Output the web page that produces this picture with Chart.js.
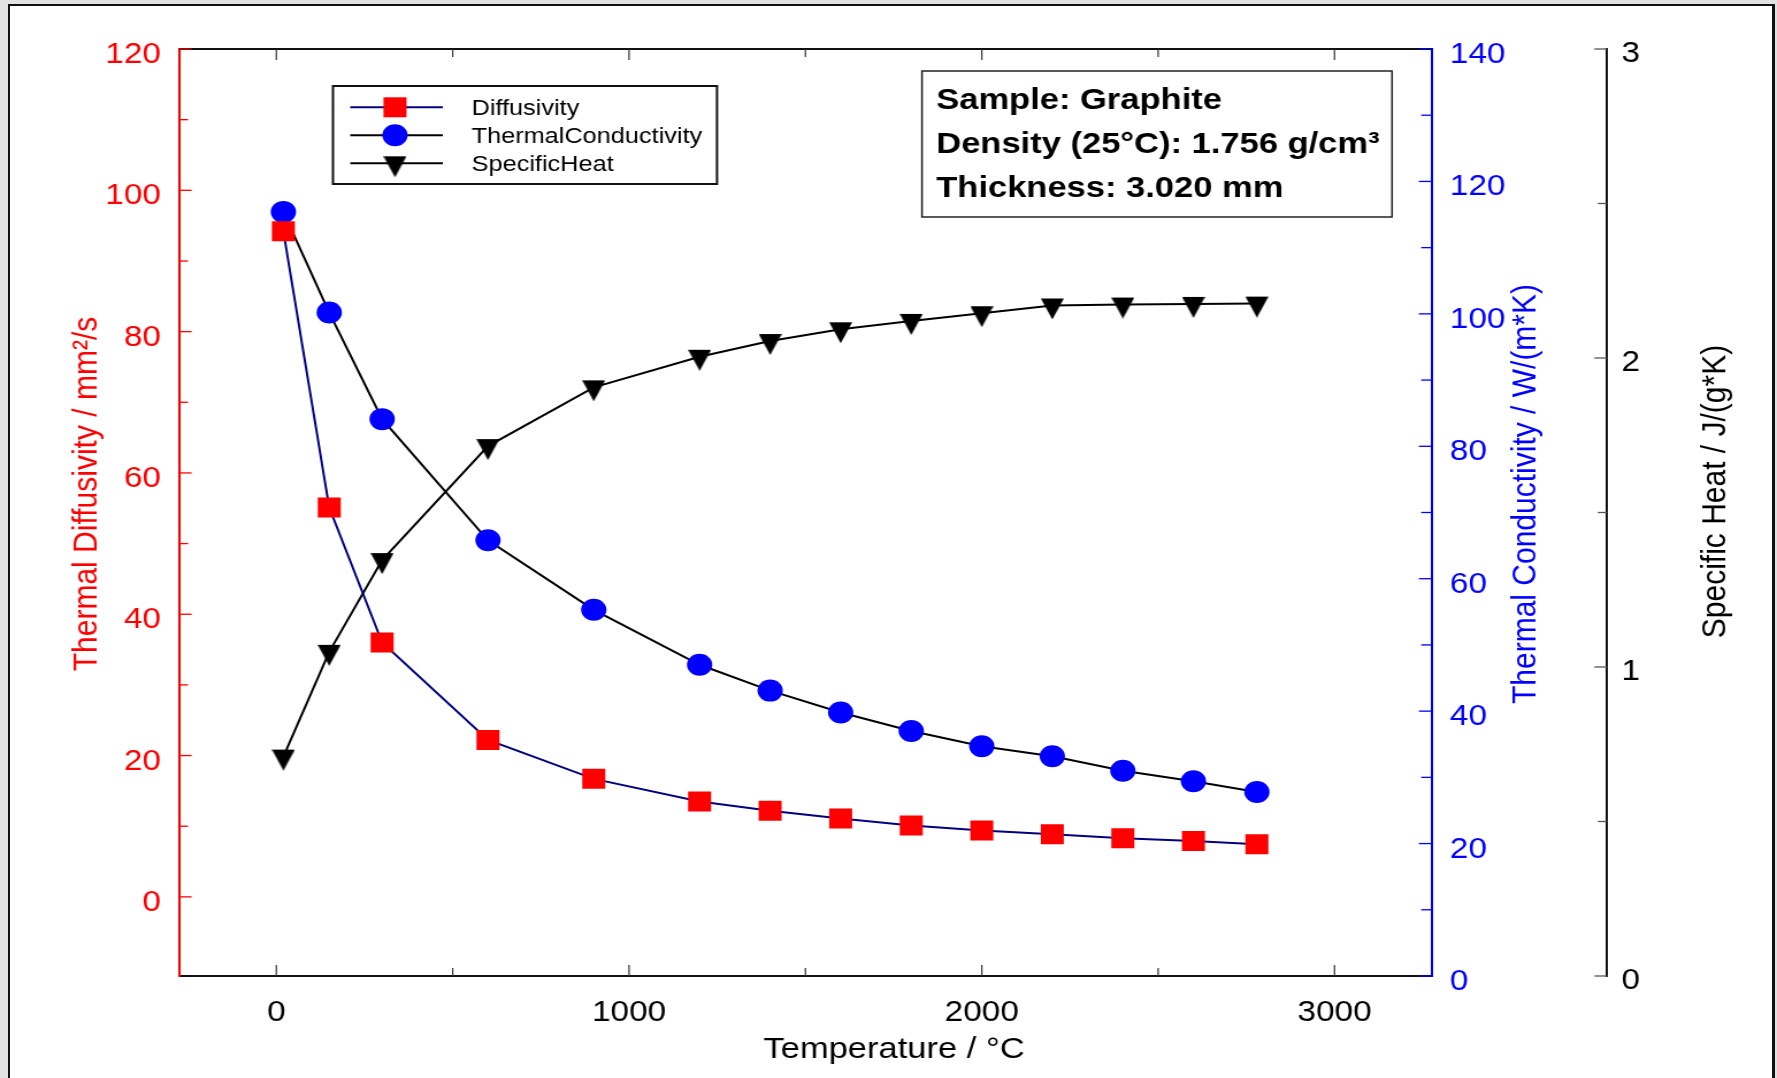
<!DOCTYPE html>
<html><head><meta charset="utf-8">
<script src="https://cdn.jsdelivr.net/npm/chart.js@4.4.1/dist/chart.umd.min.js"></script>
<style>
html,body{margin:0;padding:0;background:#e2e2e2;width:1777px;height:1078px;overflow:hidden;}
#panel{position:absolute;left:8px;top:4px;width:1767px;height:1200px;box-sizing:border-box;border:2px solid #111;border-right-width:3px;background:#fff;}
#wrap{position:absolute;left:0;top:0;width:1545px;height:1078px;transform:scaleX(1.15016);transform-origin:0 0;}
</style></head><body>
<div id="panel"></div>
<div id="wrap"><canvas id="c" width="1545" height="1078"></canvas></div>
<script>
// ---- data ----
const temperatures = [20, 150, 300, 600, 900, 1200, 1400, 1600, 1800, 2000, 2200, 2400, 2600, 2780];
const diffusivity  = [94.2, 55.1, 36.0, 22.2, 16.7, 13.5, 12.2, 11.1, 10.1, 9.4, 8.85, 8.3, 7.9, 7.45];
const conductivity = [115.4, 100.2, 84.1, 65.8, 55.3, 47.0, 43.1, 39.8, 37.0, 34.7, 33.2, 31.0, 29.4, 27.8];
const specificHeat = [0.71, 1.049, 1.346, 1.715, 1.905, 2.004, 2.055, 2.093, 2.12, 2.145, 2.17, 2.173, 2.175, 2.176];

const seriesNames = ['Diffusivity', 'ThermalConductivity', 'SpecificHeat'];
const xTitle = 'Temperature / °C';
const diffTitle = 'Thermal Diffusivity / mm²/s';
const condTitle = 'Thermal Conductivity / W/(m*K)';
const cpTitle = 'Specific Heat / J/(g*K)';
const infoLines = ['Sample: Graphite', 'Density (25°C): 1.756 g/cm³', 'Thickness: 3.020 mm'];

const xTicks = [0, 1000, 2000, 3000];
const xMinor = [500, 1500, 2500];
const diffTicks = [0, 20, 40, 60, 80, 100, 120];
const diffMinor = [10, 30, 50, 70, 90, 110];
const condTicks = [0, 20, 40, 60, 80, 100, 120, 140];
const condMinor = [10, 30, 50, 70, 90, 110, 130];
const cpTicks = [0, 1, 2, 3];
const cpMinor = [0.5, 1.5, 2.5];

// ---- styles ----
const FONT = '"Liberation Sans", Arial, Helvetica, sans-serif';
const RED = '#ff0000', BLUE = '#0000ff', NAVY = '#000080', BLACK = '#000000';

function makeTriangle(w, h, color) {
  const c = document.createElement('canvas');
  const H = Math.round(4 * h / 3);
  c.width = w; c.height = H;
  const g = c.getContext('2d');
  const top = H / 2 - h / 3;
  g.fillStyle = color;
  g.beginPath(); g.moveTo(0, top); g.lineTo(w, top); g.lineTo(w / 2, top + h); g.closePath(); g.fill();
  return c;
}
const triImg = makeTriangle(20, 21, BLACK);

function pts(xs, ys) { return xs.map((x, i) => ({ x: x, y: ys[i] })); }
function setTicks(arr) { return (scale) => { scale.ticks = arr.map(v => ({ value: v })); }; }

const decor = {
  id: 'decor',
  afterDraw(chart) {
    const ctx = chart.ctx, a = chart.chartArea;
    const sx = chart.scales.x, sy = chart.scales.y, s1 = chart.scales.y1, s2 = chart.scales.y2;
    ctx.save();
    // top frame
    ctx.strokeStyle = '#111'; ctx.lineWidth = 2;
    ctx.beginPath(); ctx.moveTo(a.left, a.top); ctx.lineTo(a.right, a.top); ctx.stroke();
    // x ticks (bottom up, top down)
    ctx.lineWidth = 1.2; ctx.strokeStyle = '#333';
    const xt = (v, len) => {
      const p = sx.getPixelForValue(v);
      ctx.beginPath(); ctx.moveTo(p, a.bottom); ctx.lineTo(p, a.bottom - len); ctx.stroke();
      ctx.beginPath(); ctx.moveTo(p, a.top); ctx.lineTo(p, a.top + len); ctx.stroke();
    };
    xTicks.forEach(v => xt(v, 11)); xMinor.forEach(v => xt(v, 8));
    // left red ticks
    ctx.lineWidth = 1.3; ctx.strokeStyle = RED;
    const lt = (v, len) => { const p = sy.getPixelForValue(v); ctx.beginPath(); ctx.moveTo(a.left, p); ctx.lineTo(a.left + len, p); ctx.stroke(); };
    diffTicks.forEach(v => lt(v, 11)); diffMinor.forEach(v => lt(v, 8));
    // blue ticks
    ctx.strokeStyle = BLUE;
    const bt = (v, len) => { const p = s1.getPixelForValue(v); ctx.beginPath(); ctx.moveTo(a.right, p); ctx.lineTo(a.right - len, p); ctx.stroke(); };
    condTicks.forEach(v => bt(v, 11)); condMinor.forEach(v => bt(v, 9));
    // black cp ticks
    ctx.strokeStyle = '#555';
    const ct = (v, len) => { const p = s2.getPixelForValue(v); ctx.beginPath(); ctx.moveTo(s2.left, p); ctx.lineTo(s2.left - len, p); ctx.stroke(); };
    cpTicks.forEach(v => ct(v, 11)); cpMinor.forEach(v => ct(v, 8));

    // axis titles
    ctx.textAlign = 'center'; ctx.textBaseline = 'alphabetic';
    ctx.font = '30px ' + FONT;
    const rot = (txt, x, y, col) => { ctx.save(); ctx.fillStyle = col; ctx.translate(x, y); ctx.rotate(-Math.PI / 2); ctx.fillText(txt, 0, 0); ctx.restore(); };
    rot(diffTitle, 84.1, 494, RED);
    rot(condTitle, 1334.6, 494, BLUE);
    rot(cpTitle, 1499.8, 491.5, BLACK);
    ctx.font = '30px ' + FONT; ctx.fillStyle = BLACK;
    ctx.fillText(xTitle, 777.3, 1058);

    // legend
    ctx.fillStyle = '#fff'; ctx.fillRect(289.5, 86, 333.9, 98);
    ctx.strokeStyle = '#111'; ctx.lineWidth = 2; ctx.strokeRect(289.5, 86, 333.9, 98);
    const rows = [107.3, 135.3, 163.3];
    const lineCols = [NAVY, BLACK, BLACK];
    rows.forEach((ry, i) => {
      ctx.strokeStyle = lineCols[i]; ctx.lineWidth = 2;
      ctx.beginPath(); ctx.moveTo(304.5, ry); ctx.lineTo(385, ry); ctx.stroke();
      const mx = 343.4;
      if (i === 0) { ctx.fillStyle = RED; ctx.fillRect(mx - 10, ry - 10, 20, 20); }
      else if (i === 1) { ctx.fillStyle = BLUE; ctx.beginPath(); ctx.arc(mx, ry, 11, 0, Math.PI * 2); ctx.fill(); }
      else { ctx.drawImage(triImg, mx - triImg.width / 2, ry - triImg.height / 2); }
      ctx.fillStyle = BLACK; ctx.font = '22px ' + FONT; ctx.textAlign = 'left';
      ctx.fillText(seriesNames[i], 410, ry + 8);
    });

    // info box
    ctx.fillStyle = '#fff'; ctx.fillRect(801.6, 71, 408.7, 146);
    ctx.strokeStyle = '#222'; ctx.lineWidth = 1.5; ctx.strokeRect(801.6, 71, 408.7, 146);
    ctx.fillStyle = BLACK; ctx.font = 'bold 30px ' + FONT; ctx.textAlign = 'left';
    const bl = [109, 153, 197];
    infoLines.forEach((t, i) => ctx.fillText(t, 814, bl[i]));
    ctx.restore();
  }
};

const tickFont = { family: FONT, size: 29 };

new Chart(document.getElementById('c'), {
  type: 'line',
  data: {
    datasets: [
      { label: seriesNames[0], data: pts(temperatures, diffusivity), yAxisID: 'y',
        borderColor: NAVY, borderWidth: 2, pointStyle: 'rect', pointRadius: 14.14,
        pointBackgroundColor: RED, pointBorderColor: RED, pointBorderWidth: 0, tension: 0 },
      { label: seriesNames[1], data: pts(temperatures, conductivity), yAxisID: 'y1',
        borderColor: BLACK, borderWidth: 2, pointStyle: 'circle', pointRadius: 11,
        pointBackgroundColor: BLUE, pointBorderColor: BLUE, pointBorderWidth: 0, tension: 0 },
      { label: seriesNames[2], data: pts(temperatures, specificHeat), yAxisID: 'y2',
        borderColor: BLACK, borderWidth: 2, pointStyle: triImg, pointRadius: 10,
        pointBackgroundColor: BLACK, pointBorderWidth: 0, tension: 0 }
    ]
  },
  options: {
    responsive: false, animation: false, devicePixelRatio: 1,
    layout: { padding: { top: 49, left: 0, right: 0, bottom: 0 } },
    plugins: { legend: { display: false }, tooltip: { enabled: false }, title: { display: false } },
    scales: {
      x: { type: 'linear', position: 'bottom', min: -276, max: 3275,
        afterBuildTicks: setTicks(xTicks), afterFit: s => { s.height = 102; },
        grid: { display: false, drawTicks: false }, border: { display: true, color: '#111', width: 2 },
        ticks: { autoSkip: false, maxRotation: 0, padding: 20, color: BLACK, font: tickFont, callback: v => String(v) } },
      y: { type: 'linear', position: 'left', min: -11.2, max: 120,
        afterBuildTicks: setTicks(diffTicks), afterFit: s => { s.width = 155.6; },
        grid: { display: false, drawTicks: false }, border: { display: true, color: RED, width: 2 },
        ticks: { padding: 15.6, labelOffset: 6, color: RED, font: tickFont, callback: v => String(v) } },
      y1: { type: 'linear', position: 'right', weight: 0, min: 0, max: 140,
        afterBuildTicks: setTicks(condTicks), afterFit: s => { s.width = 152.6; },
        grid: { display: false, drawTicks: false }, border: { display: true, color: BLUE, width: 2 },
        ticks: { padding: 16, labelOffset: 6, color: BLUE, font: tickFont, callback: v => String(v) } },
      y2: { type: 'linear', position: 'right', weight: 1, min: 0, max: 3,
        afterBuildTicks: setTicks(cpTicks), afterFit: s => { s.width = 147.8; },
        grid: { display: false, drawTicks: false }, border: { display: true, color: '#111', width: 2 },
        ticks: { padding: 12.5, labelOffset: 5, color: BLACK, font: tickFont, callback: v => String(v) } }
    }
  },
  plugins: [decor]
});
</script></body></html>
